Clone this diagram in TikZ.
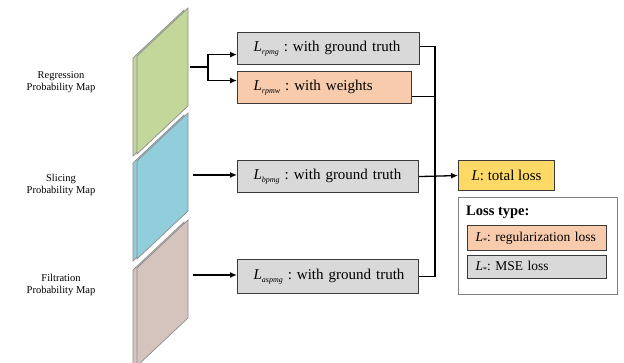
\documentclass[tikz,border=0pt]{standalone}
\usepackage{fontspec}
\setmainfont{Liberation Serif}
\usetikzlibrary{arrows.meta}
\frenchspacing
\definecolor{pgreen}{HTML}{C4D79B}
\definecolor{pblue}{HTML}{92CDDC}
\definecolor{pbrown}{HTML}{D5C4BE}
\definecolor{pedge}{HTML}{8C8C8C}
\definecolor{bgray}{HTML}{D9D9D9}
\definecolor{borange}{HTML}{F8CBAD}
\definecolor{byellow}{HTML}{FFD966}
\definecolor{bedge}{HTML}{3A3A3A}
\definecolor{ledge}{HTML}{808080}
\newcommand{\Lsub}[1]{\textit{L}\raisebox{-0.35ex}{\fontsize{8}{8}\selectfont\itshape #1}}
\newcommand{\Lstar}{\textit{L}\raisebox{-0.3ex}{\fontsize{8}{8}\selectfont *}}
\newcommand{\myplane}[2]{%
  \filldraw[fill=#1, draw=pedge, line width=0.7pt]
    (133,#2+50) -- (184,#2+2) -- (184,#2+100) -- (133,#2+148) -- cycle;
  \filldraw[fill=#1, draw=pedge, line width=0.7pt]
    (137,#2+48) -- (188,#2) -- (188,#2+98) -- (137,#2+146) -- cycle;}
\begin{document}
\begin{tikzpicture}[x=1pt,y=-1pt,
  box/.style={draw=bedge, line width=1.1pt, minimum height=32pt, inner xsep=2pt,
    inner ysep=0pt, anchor=north west, font=\fontsize{15}{18}\selectfont\frenchspacing, align=left},
  legbox/.style={draw=bedge, line width=1.1pt, inner xsep=2pt, inner ysep=0pt,
    anchor=north west, font=\fontsize{13.5}{16}\selectfont\frenchspacing, align=left},
  conn/.style={line width=1.3pt, black},
  arr/.style={conn, -{Latex[length=7pt,width=6pt]}},
  lbl/.style={font=\fontsize{10.5}{12.5}\selectfont, align=center}]
\useasboundingbox (0,0) rectangle (624,363);
% planes
\myplane{pgreen}{8}
\myplane{pblue}{113}
\myplane{pbrown}{220}
% labels
\node[lbl] (lreg) at (61,82) {Regression\\Probability Map};
\node[lbl] (lsli) at (61,185) {Slicing\\Probability Map};
\node[lbl] (lfil) at (61,285) {Filtration\\Probability Map};
% boxes
\node[box, fill=bgray, text width=178pt] (rpmg) at (237,32) {\hspace*{14pt}\Lsub{rpmg} : with ground truth};
\node[box, fill=borange, text width=170pt] (rpmw) at (237,71) {\hspace*{14pt}\Lsub{rpmw} : with weights};
\node[box, fill=bgray, text width=177pt] (bpmg) at (237,160) {\hspace*{14pt}\Lsub{bpmg} : with ground truth};
\node[box, fill=bgray, text width=177pt, minimum height=34pt] (aspmg) at (237,259) {\hspace*{14pt}\Lsub{aspmg} : with ground truth};
\node[draw=bedge, line width=1.1pt, fill=byellow, minimum width=96pt, minimum height=30pt,
  anchor=north west, inner sep=0pt, font=\fontsize{15}{18}\selectfont] (total) at (458,160) {\textit{L}: total loss};
% legend
\node[draw=ledge, line width=0.8pt, minimum width=159pt, minimum height=97pt, anchor=north west] (legend) at (458,197) {};
\node[anchor=west, inner sep=0pt, font=\bfseries\fontsize{14.5}{17}\selectfont] (ltitle) at (466,212) {Loss type:};
\node[legbox, fill=borange, text width=135pt, minimum height=25pt] (lreg2) at (467,225) {\hspace*{6pt}\Lstar : regularization loss};
\node[legbox, fill=bgray, text width=135pt, minimum height=23pt] (lmse) at (467,255) {\hspace*{6pt}\Lstar : MSE loss};
% connectors
\coordinate (gout) at (190,67);
\coordinate (fork) at (208,67);
\coordinate (bout) at (193,175);
\coordinate (fout) at (193,275);
\coordinate (jx) at (435,0);
\draw[conn] (gout) -- (fork);
\draw[arr] (fork) |- ([yshift=-6pt]rpmg.west);
\draw[arr] (fork) |- ([yshift=7pt]rpmw.west);
\draw[arr] (bout) -- (bout -| bpmg.west);
\draw[arr] (fout) -- (fout -| aspmg.west);
\draw[conn] ([yshift=2pt]rpmg.east) -- ([yshift=2pt]rpmg.east -| jx) -- (aspmg.east -| jx) -- (aspmg.east);
\draw[conn] ([yshift=-9pt]rpmw.east) -- ([yshift=-9pt]rpmw.east -| jx);
\draw[arr] (bpmg.east) -- (total.west);
\end{tikzpicture}
\end{document}
